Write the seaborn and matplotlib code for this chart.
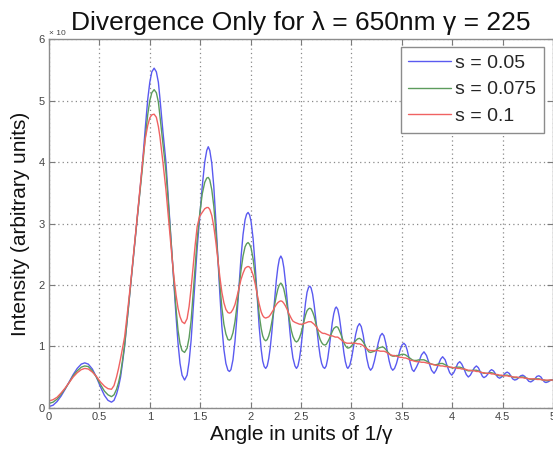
import matplotlib
matplotlib.use("Agg")
import matplotlib.pyplot as plt
import pandas as pd
import seaborn as sns

# Angle grid (units of 1/gamma) shared by all three curves
angle = [
    0.00, 0.04, 0.08, 0.12, 0.16, 0.20, 0.24, 0.28, 0.32, 0.355,
    0.39, 0.43, 0.47, 0.51, 0.55, 0.585, 0.62,
    0.645, 0.67, 0.69, 0.71, 0.73, 0.75, 0.78, 0.81, 0.84, 0.87, 0.90, 0.93, 0.955, 0.98, 1.00, 1.02, 1.043,
    1.065, 1.085, 1.10, 1.13, 1.16, 1.18, 1.20, 1.22, 1.24, 1.26, 1.28, 1.30, 1.32, 1.345,
    1.37, 1.39, 1.41, 1.43, 1.45, 1.47, 1.495, 1.52, 1.545, 1.565, 1.58,
    1.595, 1.615, 1.635, 1.655, 1.675, 1.695, 1.715, 1.735, 1.755, 1.775, 1.79,
    1.805, 1.825, 1.845, 1.865, 1.885, 1.905, 1.925, 1.945, 1.96, 1.975,
    1.99, 2.005, 2.025, 2.045, 2.065, 2.085, 2.105, 2.12, 2.135, 2.15,
    2.165, 2.18, 2.195, 2.21, 2.225, 2.24, 2.255, 2.27, 2.285, 2.30,
    2.315, 2.33, 2.345, 2.36, 2.375, 2.39, 2.405, 2.42, 2.44, 2.455,
    2.47, 2.485, 2.50, 2.515, 2.53, 2.545, 2.56, 2.575, 2.587,
    2.60, 2.615, 2.63, 2.645, 2.66, 2.675, 2.69, 2.705, 2.72, 2.735,
    2.75, 2.765, 2.78, 2.795, 2.81, 2.825, 2.84, 2.85,
    2.865, 2.88, 2.895, 2.91, 2.925, 2.94, 2.955, 2.965,
    2.984, 3.003, 3.022, 3.042, 3.061, 3.08,
    3.098, 3.117, 3.135, 3.153, 3.172, 3.19,
    3.209, 3.228, 3.248, 3.267, 3.286, 3.305,
    3.323, 3.34, 3.358, 3.375, 3.393, 3.41,
    3.428, 3.447, 3.465, 3.483, 3.502, 3.52,
    3.537, 3.553, 3.57, 3.587, 3.603, 3.62,
    3.645, 3.67, 3.695, 3.72, 3.745, 3.77, 3.795, 3.82, 3.84, 3.86,
    3.885, 3.905, 3.93, 3.95, 3.975, 3.995, 4.015, 4.035, 4.055, 4.075, 4.095, 4.12,
    4.14, 4.16, 4.18, 4.20, 4.22, 4.24, 4.26, 4.28, 4.30, 4.315, 4.335, 4.355,
    4.375, 4.39, 4.41, 4.43, 4.45, 4.47, 4.49, 4.51, 4.525, 4.545, 4.565, 4.585,
    4.60, 4.62, 4.64, 4.66, 4.68, 4.70, 4.72, 4.74, 4.76, 4.78, 4.80, 4.82,
    4.84, 4.86, 4.88, 4.90, 4.915, 4.93, 4.95, 4.97, 5.00,
]

# Intensity (x 10^4, arbitrary units) for s = 0.05
intensity_s005 = [
    0.02, 0.04, 0.10, 0.19, 0.30, 0.42, 0.54, 0.64, 0.71, 0.73,
    0.71, 0.63, 0.50, 0.34, 0.20, 0.12, 0.09,
    0.12, 0.22, 0.34, 0.50, 0.74, 1.00, 1.50, 2.00, 2.50, 3.00, 3.50, 4.03, 4.55, 5.03, 5.30, 5.47, 5.53,
    5.47, 5.30, 5.05, 4.50, 4.00, 3.50, 3.00, 2.50, 2.00, 1.50, 1.05, 0.72, 0.53, 0.45,
    0.53, 0.75, 1.10, 1.60, 2.10, 2.60, 3.10, 3.60, 4.00, 4.19, 4.25,
    4.19, 3.98, 3.60, 3.05, 2.45, 1.85, 1.32, 0.95, 0.72, 0.61, 0.59,
    0.62, 0.78, 1.08, 1.50, 1.98, 2.45, 2.82, 3.06, 3.15, 3.18,
    3.14, 3.03, 2.75, 2.32, 1.82, 1.32, 0.95, 0.76, 0.67, 0.64,
    0.68, 0.80, 0.98, 1.22, 1.50, 1.80, 2.07, 2.28, 2.42, 2.47,
    2.42, 2.28, 2.06, 1.80, 1.52, 1.24, 0.99, 0.81, 0.68, 0.64,
    0.68, 0.80, 0.98, 1.22, 1.48, 1.71, 1.88, 1.96, 1.98,
    1.95, 1.85, 1.68, 1.47, 1.24, 1.02, 0.84, 0.72, 0.66, 0.64,
    0.68, 0.80, 0.98, 1.18, 1.38, 1.53, 1.62, 1.64,
    1.60, 1.48, 1.30, 1.10, 0.90, 0.75, 0.66, 0.64,
    0.69, 0.82, 1.00, 1.19, 1.32, 1.37,
    1.32, 1.18, 0.99, 0.80, 0.66, 0.61,
    0.65, 0.76, 0.91, 1.06, 1.17, 1.21,
    1.17, 1.06, 0.91, 0.76, 0.65, 0.61,
    0.64, 0.72, 0.83, 0.94, 1.02, 1.05,
    1.02, 0.94, 0.82, 0.71, 0.62, 0.59,
    0.66, 0.75, 0.86, 0.91, 0.85, 0.73, 0.61, 0.56, 0.61, 0.69,
    0.79, 0.83, 0.78, 0.68, 0.57, 0.53, 0.57, 0.64, 0.72, 0.75, 0.71, 0.62,
    0.54, 0.50, 0.53, 0.59, 0.65, 0.68, 0.65, 0.58, 0.51, 0.49, 0.51, 0.55,
    0.60, 0.62, 0.60, 0.55, 0.50, 0.48, 0.50, 0.53, 0.56, 0.58, 0.56, 0.51,
    0.47, 0.45, 0.46, 0.49, 0.52, 0.53, 0.51, 0.47, 0.43, 0.42, 0.44, 0.47,
    0.51, 0.52, 0.50, 0.45, 0.42, 0.41, 0.42, 0.44, 0.46,
]

# Intensity for s = 0.075
intensity_s0075 = [
    0.07, 0.09, 0.14, 0.22, 0.31, 0.41, 0.52, 0.60, 0.66, 0.68,
    0.67, 0.60, 0.50, 0.38, 0.27, 0.21, 0.18,
    0.21, 0.30, 0.41, 0.56, 0.78, 1.02, 1.50, 2.00, 2.50, 3.00, 3.48, 3.96, 4.40, 4.78, 5.00, 5.13, 5.18,
    5.13, 4.98, 4.76, 4.30, 3.85, 3.42, 2.96, 2.50, 2.04, 1.62, 1.26, 1.04, 0.93, 0.90,
    0.97, 1.14, 1.42, 1.85, 2.30, 2.75, 3.15, 3.48, 3.67, 3.74, 3.75,
    3.71, 3.55, 3.28, 2.88, 2.45, 2.01, 1.63, 1.36, 1.20, 1.11, 1.10,
    1.12, 1.22, 1.40, 1.66, 1.95, 2.24, 2.47, 2.62, 2.67, 2.69,
    2.66, 2.60, 2.42, 2.15, 1.83, 1.52, 1.29, 1.17, 1.11, 1.09,
    1.11, 1.17, 1.26, 1.39, 1.53, 1.69, 1.82, 1.93, 2.00, 2.03,
    2.00, 1.93, 1.81, 1.68, 1.53, 1.38, 1.25, 1.16, 1.09, 1.07,
    1.09, 1.14, 1.21, 1.31, 1.41, 1.51, 1.58, 1.61, 1.62,
    1.61, 1.56, 1.49, 1.39, 1.29, 1.19, 1.11, 1.06, 1.03, 1.02,
    1.03, 1.07, 1.12, 1.18, 1.24, 1.29, 1.31, 1.32,
    1.31, 1.26, 1.20, 1.13, 1.06, 1.01, 0.98, 0.97,
    0.98, 1.01, 1.05, 1.09, 1.12, 1.13,
    1.11, 1.07, 1.02, 0.96, 0.91, 0.90,
    0.91, 0.92, 0.94, 0.97, 0.98, 0.99,
    0.98, 0.95, 0.91, 0.88, 0.85, 0.84,
    0.84, 0.85, 0.85, 0.86, 0.87, 0.87,
    0.86, 0.84, 0.82, 0.80, 0.78, 0.77,
    0.77, 0.78, 0.78, 0.78, 0.76, 0.73, 0.71, 0.70, 0.70, 0.71,
    0.72, 0.72, 0.70, 0.68, 0.66, 0.65, 0.65, 0.66, 0.66, 0.66, 0.65, 0.63,
    0.61, 0.60, 0.60, 0.61, 0.61, 0.61, 0.60, 0.58, 0.57, 0.56, 0.56, 0.56,
    0.57, 0.57, 0.56, 0.54, 0.53, 0.52, 0.52, 0.52, 0.53, 0.53, 0.52, 0.51,
    0.50, 0.49, 0.49, 0.49, 0.50, 0.50, 0.49, 0.48, 0.47, 0.46, 0.46, 0.47,
    0.47, 0.47, 0.46, 0.45, 0.45, 0.44, 0.44, 0.45, 0.45,
]

# Intensity for s = 0.1
intensity_s01 = [
    0.11, 0.13, 0.17, 0.24, 0.32, 0.41, 0.50, 0.57, 0.62, 0.64,
    0.63, 0.58, 0.51, 0.42, 0.35, 0.31, 0.30,
    0.36, 0.50, 0.64, 0.80, 0.98, 1.15, 1.58, 2.03, 2.52, 3.02, 3.52, 4.03, 4.38, 4.60, 4.72, 4.77, 4.78,
    4.73, 4.58, 4.42, 4.00, 3.55, 3.18, 2.80, 2.45, 2.12, 1.84, 1.62, 1.48, 1.40, 1.37,
    1.45, 1.65, 1.95, 2.30, 2.65, 2.95, 3.12, 3.18, 3.24, 3.26, 3.26,
    3.23, 3.13, 2.95, 2.70, 2.41, 2.13, 1.88, 1.71, 1.60, 1.55, 1.54,
    1.55, 1.60, 1.68, 1.81, 1.95, 2.09, 2.19, 2.27, 2.29, 2.30,
    2.29, 2.25, 2.16, 2.02, 1.85, 1.69, 1.56, 1.50, 1.47, 1.46,
    1.47, 1.48, 1.51, 1.55, 1.59, 1.64, 1.68, 1.71, 1.73, 1.74,
    1.73, 1.70, 1.66, 1.61, 1.55, 1.50, 1.45, 1.41, 1.39, 1.38,
    1.37, 1.36, 1.36, 1.36, 1.37, 1.38, 1.39, 1.40, 1.40,
    1.40, 1.38, 1.36, 1.33, 1.30, 1.26, 1.24, 1.22, 1.21, 1.21,
    1.20, 1.19, 1.18, 1.17, 1.17, 1.16, 1.15, 1.15,
    1.15, 1.13, 1.11, 1.09, 1.07, 1.06, 1.05, 1.05,
    1.05, 1.05, 1.05, 1.05, 1.04, 1.04,
    1.03, 1.01, 0.98, 0.96, 0.94, 0.93,
    0.93, 0.93, 0.93, 0.93, 0.92, 0.92,
    0.92, 0.91, 0.89, 0.87, 0.86, 0.85,
    0.85, 0.84, 0.83, 0.82, 0.82, 0.81,
    0.81, 0.80, 0.79, 0.77, 0.77, 0.76,
    0.75, 0.75, 0.74, 0.74, 0.73, 0.72, 0.71, 0.70, 0.69, 0.69,
    0.68, 0.68, 0.67, 0.67, 0.66, 0.66, 0.65, 0.65, 0.64, 0.64, 0.63, 0.63,
    0.62, 0.61, 0.61, 0.60, 0.60, 0.59, 0.59, 0.58, 0.57, 0.57, 0.56, 0.56,
    0.56, 0.55, 0.55, 0.54, 0.54, 0.53, 0.53, 0.52, 0.52, 0.52, 0.51, 0.51,
    0.50, 0.50, 0.50, 0.49, 0.49, 0.49, 0.48, 0.48, 0.47, 0.47, 0.47, 0.47,
    0.46, 0.46, 0.46, 0.45, 0.45, 0.45, 0.45, 0.45, 0.45,
]

series_labels = ["s = 0.05", "s = 0.075", "s = 0.1"]
series_colors = ["#5a5af0", "#5c9c5c", "#f06262"]

x_ticks = [0, 0.5, 1, 1.5, 2, 2.5, 3, 3.5, 4, 4.5, 5]
x_tick_labels = ["0", "0.5", "1", "1.5", "2", "2.5", "3", "3.5", "4", "4.5", "5"]
y_ticks = [0, 1, 2, 3, 4, 5, 6]

frames = []
for label, values in zip(series_labels, [intensity_s005, intensity_s0075, intensity_s01]):
    frames.append(pd.DataFrame({"angle": angle, "intensity": values, "series": label}))
df = pd.concat(frames, ignore_index=True)

sns.set_theme(style="white")
plt.rcParams["font.family"] = ["Liberation Sans", "DejaVu Sans"]

fig = plt.figure(figsize=(5.53, 4.49), dpi=100)
ax = fig.add_axes([49 / 553, 41.3 / 449, 504 / 553, 368.4 / 449])

sns.lineplot(
    data=df, x="angle", y="intensity", hue="series",
    hue_order=series_labels, palette=series_colors,
    estimator=None, sort=False, linewidth=1.0, ax=ax,
)

ax.set_xlim(0, 5)
ax.set_ylim(0, 6)
ax.set_xticks(x_ticks)
ax.set_xticklabels(x_tick_labels)
ax.set_yticks(y_ticks)

ax.grid(True, linestyle=(0, (1, 2.5)), color="#8a8a8a", linewidth=0.9)
for side in ["left", "bottom", "top", "right"]:
    ax.spines[side].set_color("#8c8c8c")
    ax.spines[side].set_linewidth(1.0)
ax.tick_params(axis="both", which="both", direction="in", length=4,
               width=0.8, color="#7a7a7a", labelsize=8, labelcolor="#444444",
               top=True, right=True, bottom=True, left=True, pad=3)

ax.set_xlabel("Angle in units of 1/\u03b3", fontsize=15, color="#111111", labelpad=2)
ax.set_ylabel("Intensity (arbitrary units)", fontsize=15, color="#111111", labelpad=6)
ax.set_title("Divergence Only for \u03bb = 650nm \u03b3 = 225", fontsize=19,
             color="#111111", pad=7)

ax.text(0.0, 1.005, "\u00d7 10", transform=ax.transAxes, fontsize=6,
        color="#444444", ha="left", va="bottom")

handles, _ = ax.get_legend_handles_labels()
leg = ax.legend(handles[:3], series_labels, loc="upper right",
                bbox_to_anchor=(0.982, 0.98), fontsize=14, frameon=True,
                fancybox=False, framealpha=1, edgecolor="#8c8c8c",
                handlelength=2.2, handletextpad=0.2, labelspacing=0.45,
                borderpad=0.4, borderaxespad=0.0)
leg.get_frame().set_linewidth(1.0)

fig.savefig("out.png", dpi=100)
